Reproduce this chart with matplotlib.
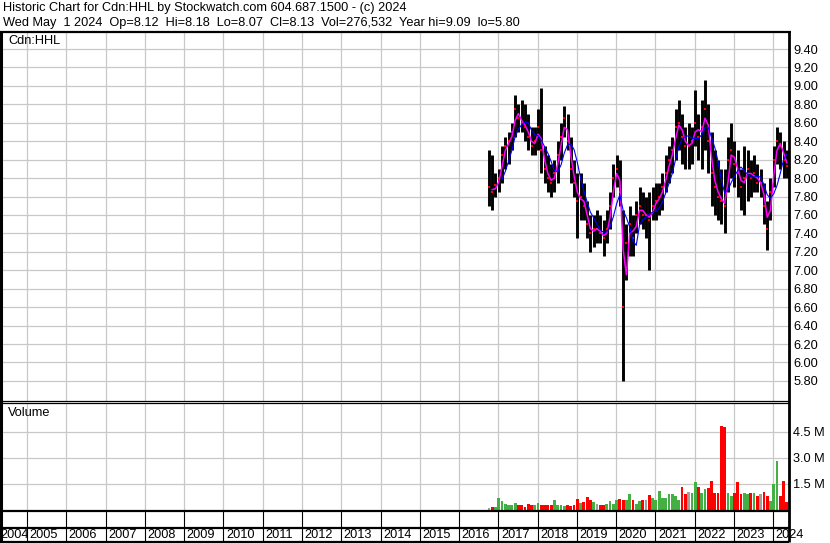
import numpy as np
import pandas as pd
import matplotlib
matplotlib.use("Agg")
import matplotlib.pyplot as plt
from matplotlib.lines import Line2D

plt.rcParams['font.family'] = ['Liberation Sans', 'DejaVu Sans']

# ---------------- data (monthly, Oct 2016 .. May 2024) ----------------
start_year = 2016.76
high = [8.30, 8.25, 8.05, 8.10, 8.35, 8.45, 8.50, 8.60, 8.90, 8.80,
        8.85, 8.80, 8.70, 8.55, 8.55, 8.75, 8.98, 8.35, 8.25, 8.15,
        8.20, 8.40, 8.60, 8.78, 8.70, 8.45, 8.20, 8.05, 8.05, 7.95,
        7.75, 7.60, 7.60, 7.65, 7.60, 7.55, 7.65, 7.85, 8.15, 8.25,
        8.20, 7.65, 7.50, 7.70, 7.60, 7.75, 7.90, 7.85, 7.80, 7.85,
        7.90, 7.95, 7.95, 8.05, 8.25, 8.35, 8.45, 8.75, 8.85, 8.70,
        8.55, 8.60, 8.55, 8.95, 8.70, 8.85, 9.06, 8.80, 8.50, 8.30,
        8.20, 8.10, 8.10, 8.45, 8.60, 8.40, 8.30, 8.10, 8.35, 8.30,
        8.20, 8.25, 8.15, 8.10, 7.95, 7.75, 8.00, 8.35, 8.55, 8.50,
        8.40, 8.30]
low = [7.70, 7.65, 7.80, 7.85, 7.95, 8.10, 8.15, 8.30, 8.45, 8.50,
       8.50, 8.40, 8.30, 8.25, 8.25, 8.30, 8.05, 7.95, 7.85, 7.80,
       7.85, 7.95, 8.20, 8.45, 8.30, 7.95, 7.80, 7.35, 7.55, 7.55,
       7.35, 7.20, 7.25, 7.30, 7.30, 7.15, 7.30, 7.45, 7.80, 7.90,
       7.70, 5.80, 6.90, 7.15, 7.15, 7.40, 7.50, 7.45, 7.35, 7.00,
       7.55, 7.55, 7.60, 7.65, 7.85, 7.95, 8.05, 8.20, 8.30, 8.15,
       8.10, 8.10, 8.15, 8.35, 8.20, 8.10, 8.30, 8.05, 7.70, 7.60,
       7.55, 7.50, 7.40, 7.85, 8.00, 7.90, 7.80, 7.65, 7.60, 7.75,
       7.80, 7.85, 7.85, 7.80, 7.50, 7.22, 7.55, 7.90, 8.15, 8.10,
       8.00, 8.00]
close = [7.90, 7.85, 7.92, 8.00, 8.25, 8.35, 8.40, 8.50, 8.75, 8.65,
         8.60, 8.55, 8.45, 8.35, 8.40, 8.55, 8.30, 8.10, 8.00, 7.95,
         8.05, 8.25, 8.45, 8.65, 8.40, 8.10, 7.95, 7.75, 7.80, 7.70,
         7.50, 7.40, 7.45, 7.45, 7.40, 7.35, 7.45, 7.70, 8.00, 8.10,
         7.85, 6.60, 7.30, 7.50, 7.35, 7.60, 7.70, 7.60, 7.60, 7.55,
         7.70, 7.75, 7.80, 7.90, 8.05, 8.20, 8.30, 8.55, 8.60, 8.45,
         8.35, 8.35, 8.40, 8.60, 8.45, 8.55, 8.75, 8.40, 8.05, 7.90,
         7.80, 7.75, 7.70, 8.20, 8.30, 8.15, 8.05, 7.90, 8.00, 8.10,
         8.00, 8.05, 7.95, 7.95, 7.70, 7.45, 7.85, 8.20, 8.40, 8.35,
         8.20, 8.13]
volume_m = [0.10, 0.15, 0.20, 0.70, 0.50, 0.35, 0.30, 0.30, 0.40, 0.30,
            0.30, 0.20, 0.35, 0.30, 0.30, 0.40, 0.30, 0.30, 0.30, 0.30,
            0.60, 0.30, 0.30, 0.25, 0.30, 0.25, 0.30, 0.65, 0.40, 0.45,
            0.75, 0.60, 0.45, 0.35, 0.30, 0.30, 0.35, 0.50, 0.35, 0.55,
            0.65, 0.60, 0.55, 0.90, 0.55, 0.35, 0.50, 0.60, 0.60, 0.85,
            0.70, 0.60, 1.10, 0.70, 0.70, 0.95, 0.90, 0.80, 0.60, 1.30,
            0.90, 1.05, 1.00, 1.60, 1.30, 1.00, 1.20, 1.25, 1.70, 1.00,
            1.00, 4.85, 4.80, 1.00, 0.80, 1.00, 1.60, 0.90, 1.00, 0.90,
            1.00, 1.00, 0.80, 0.90, 1.05, 0.80, 0.50, 1.50, 2.85, 0.80,
            1.70, 0.45]
price_ticks = [5.80, 6.00, 6.20, 6.40, 6.60, 6.80, 7.00, 7.20, 7.40, 7.60,
               7.80, 8.00, 8.20, 8.40, 8.60, 8.80, 9.00, 9.20, 9.40]
vol_ticks = [1.5, 3.0, 4.5]
vol_labels = ["1.5 M", "3.0 M", "4.5 M"]
years = list(range(2004, 2025))
header1 = "Historic Chart for Cdn:HHL by Stockwatch.com 604.687.1500 - (c) 2024"
header2 = "Wed May  1 2024  Op=8.12  Hi=8.18  Lo=8.07  Cl=8.13  Vol=276,532  Year hi=9.09  lo=5.80"

# ---------------- layout helpers (pixels) ----------------
W, H = 830, 543
PX_PER_YEAR = 39.28
X0_PX, X0_YR = 0.7, 2004.33


def px2yr(x):
    return X0_YR + (x - X0_PX) / PX_PER_YEAR


def yr2px(y):
    return X0_PX + (y - X0_YR) * PX_PER_YEAR


def rect(x0, y0, x1, y1):
    return [x0 / W, 1 - y1 / H, (x1 - x0) / W, (y1 - y0) / H]


def fline(x0, y0, x1, y1, lw=1.0, color='black'):
    fig.add_artist(Line2D([x0 / W, x1 / W], [1 - y0 / H, 1 - y1 / H],
                          transform=fig.transFigure, color=color, lw=lw,
                          solid_capstyle='butt'))


n = len(close)
t = start_year + np.arange(n) / 12.0
df = pd.DataFrame({'t': t, 'high': high, 'low': low, 'close': close, 'vol': volume_m})
ma_short = df['close'].rolling(2).mean()
ma_long = df['close'].rolling(5).mean()

fig = plt.figure(figsize=(W / 100, H / 100), dpi=100)
fig.patch.set_facecolor('white')

GRID = '#c8c8c8'
XL = (px2yr(1), px2yr(789))
FS = 9.2

# ---------------- price panel ----------------
axp = fig.add_axes(rect(1, 32, 789, 401))
p_per_px = 0.2 / 18.44
axp.set_xlim(*XL)
axp.set_ylim(9.40 - (401 - 49) * p_per_px, 9.40 + (49 - 32) * p_per_px)
for s in axp.spines.values():
    s.set_visible(False)
axp.set_xticks([y for y in years if y >= 2005])
axp.set_xticklabels([])
axp.tick_params(axis='x', length=0)
axp.yaxis.tick_right()
axp.set_yticks(price_ticks)
axp.set_yticklabels([f"{v:.2f}" for v in price_ticks])
axp.tick_params(axis='y', length=0, pad=3, labelsize=FS, labelcolor='black')
axp.grid(True, color=GRID, lw=0.9)
axp.set_axisbelow(True)

axp.vlines(df['t'], df['low'], df['high'], colors='black', lw=2.1,
           capstyle='butt', zorder=2)
axp.plot(df['t'], df['close'], 's', color='red', ms=1.6, mew=0, zorder=3)
axp.plot(df['t'], ma_short, color='#ff00ff', lw=1.1, zorder=4)
axp.plot(df['t'], ma_long, color='#0000ff', lw=0.8, zorder=5)
axp.text(px2yr(8), 9.40 + (49 - 41) * p_per_px, "Cdn:HHL", fontsize=FS,
         va='center', ha='left', color='black')

# ---------------- volume panel ----------------
axv = fig.add_axes(rect(1, 403, 789, 510))
v_per_px = 1.5 / 26.0
axv.set_xlim(*XL)
axv.set_ylim(0, (510 - 403) * v_per_px)
for s in axv.spines.values():
    s.set_visible(False)
axv.set_xticks([y for y in years if y >= 2005])
axv.set_xticklabels([])
axv.tick_params(axis='x', length=0)
axv.yaxis.tick_right()
axv.set_yticks(vol_ticks)
axv.set_yticklabels(vol_labels)
axv.tick_params(axis='y', length=0, pad=3, labelsize=FS, labelcolor='black')
axv.grid(True, color=GRID, lw=0.9)
axv.set_axisbelow(True)

prev = df['close'].shift(1)
vcolors = np.where(df['close'] > prev, '#44b044',
                   np.where(df['close'] < prev, '#ff0000', '#a0a0a0'))
axv.bar(df['t'], df['vol'], width=0.85 / 12, color=vcolors, zorder=2)
axv.text(px2yr(8), (510 - 413) * v_per_px, "Volume", fontsize=FS,
         va='center', ha='left', color='black')

# ---------------- borders / year row ----------------
fline(0, 32, 790.5, 32, lw=1.6)
fline(1, 31, 1, 542, lw=2.2)
fline(789, 31, 789, 542, lw=2.0)
fline(0, 401, 789, 401, lw=0.9)
fline(0, 403.3, 789, 403.3, lw=0.9)
fline(0, 510.5, 789, 510.5, lw=1.6)
fline(0, 527.5, 789, 527.5, lw=1.6)
fline(0, 541.8, 789, 541.8, lw=1.6)
for y in years:
    xp = yr2px(y)
    if 2 < xp < 788:
        fline(xp, 510, xp, 542, lw=0.8)
    lx = max(xp + 2.5, 0.5)
    fig.text(lx / W, 1 - 535 / H, str(y), fontsize=FS, ha='left',
             va='center', color='black')

fig.text(3 / W, 1 - 8.5 / H, header1, fontsize=FS, ha='left', va='center', color='black')
fig.text(3 / W, 1 - 23 / H, header2, fontsize=FS, ha='left', va='center', color='black')

fig.savefig('out.png', dpi=100, facecolor='white')
